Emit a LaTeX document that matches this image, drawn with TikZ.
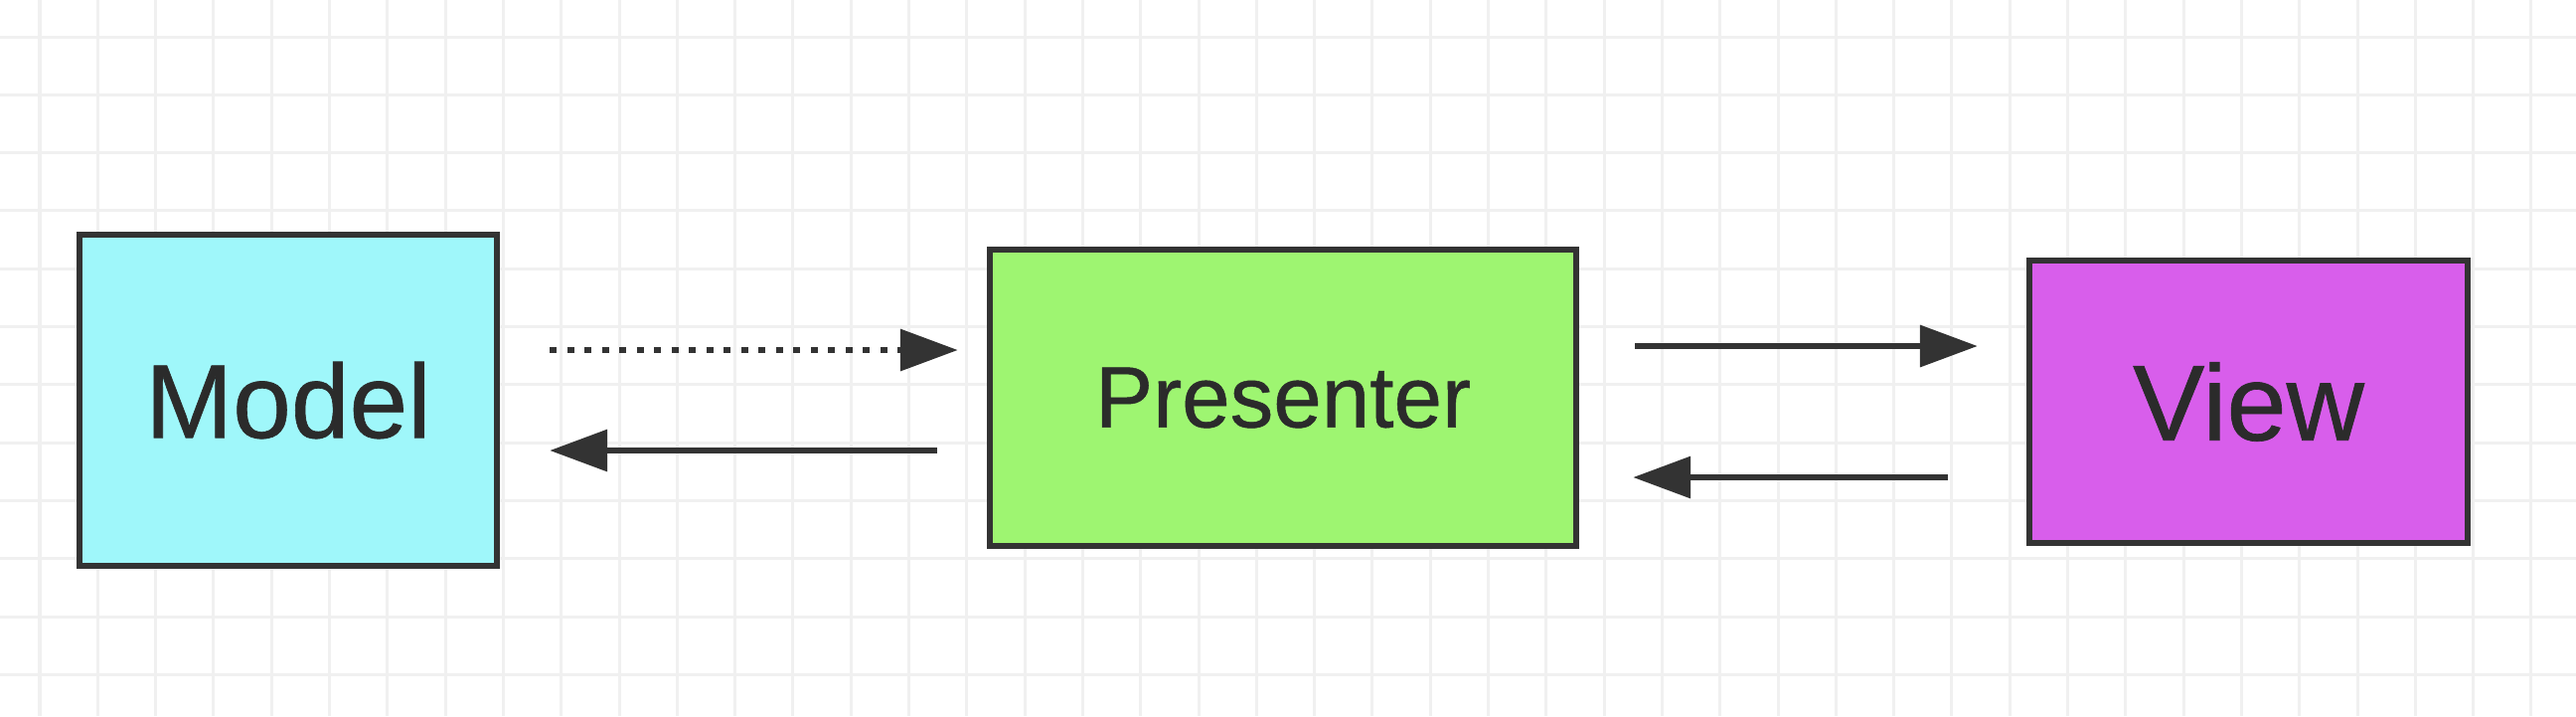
\documentclass[tikz,border=0pt]{standalone}
\usepackage{fontspec}
\setmainfont{Liberation Sans}
\newfontfamily\labelfont[FakeBold=0.6]{Liberation Sans}
\usetikzlibrary{arrows.meta}
\definecolor{gridc}{HTML}{F0F0F0}
\definecolor{edgec}{HTML}{333333}
\definecolor{modelc}{HTML}{9FF7FA}
\definecolor{presc}{HTML}{9EF571}
\definecolor{viewc}{HTML}{D85EEB}
\definecolor{textc}{HTML}{2B2B2B}
\begin{document}
\begin{tikzpicture}[x=0.01cm,y=-0.01cm,
  box/.style={draw=edgec, line width=0.06cm, inner sep=0pt, text=textc},
  arr/.style={draw=edgec, line width=0.065cm, -{Triangle[length=0.58cm,width=0.41cm]}},
  gridline/.style={draw=gridc, line width=0.03cm}]
\fill[white] (0,0) rectangle (2592,720);
\useasboundingbox (0,0) rectangle (2592,720);
\foreach \i in {0,...,44} \draw[gridline] ({40+58.3*\i},0) -- ({40+58.3*\i},720);
\foreach \j in {0,...,11} \draw[gridline] (0,{37+58.3*\j}) -- (2592,{37+58.3*\j});
\node[box, fill=modelc, minimum width=4.20cm, minimum height=3.33cm,
  font=\labelfont\fontsize{30}{32}\selectfont] (M) at (290,402.5) {Model};
\node[box, fill=presc, minimum width=5.90cm, minimum height=2.98cm,
  font=\labelfont\fontsize{24.8}{27}\selectfont] (P) at (1291,400) {Presenter};
\node[box, fill=viewc, minimum width=4.41cm, minimum height=2.84cm,
  font=\labelfont\fontsize{30.8}{33}\selectfont] (V) at (2262.5,404) {View};
\draw[arr, dash pattern=on 0.07cm off 0.105cm] ([shift={(50,-50.5)}]M.east) -- ([shift={(-29,-48)}]P.west);
\draw[arr] ([shift={(-50,53)}]P.west) -- ([shift={(50,50.5)}]M.east);
\draw[arr] ([shift={(56,-52)}]P.east) -- ([shift={(-49,-56)}]V.west);
\draw[arr] ([shift={(-79,76)}]V.west) -- ([shift={(54,80)}]P.east);
\end{tikzpicture}
\end{document}
